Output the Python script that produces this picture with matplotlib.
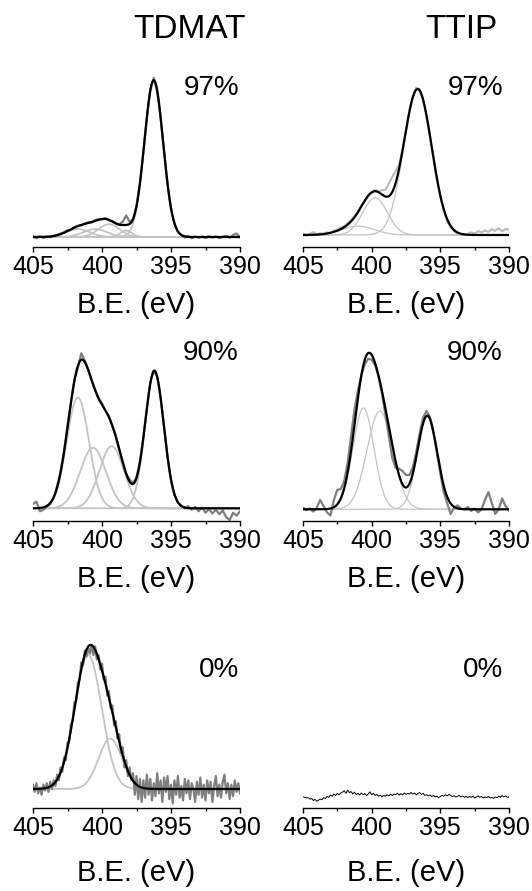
import numpy as np
import matplotlib
matplotlib.use('Agg')
import matplotlib.pyplot as plt

plt.rcParams['font.family'] = ['Liberation Sans', 'DejaVu Sans']

# binding energy grids (eV), spectra were sampled evenly from 405 to 390 eV
be_coarse = np.linspace(405, 390, 61)
be_fine = np.linspace(405, 390, 121)

# measured N 1s spectra, normalised intensity (a.u.)
tdmat_97 = [0.005, -0.008, 0.004, -0.006, 0.003, -0.002, 0.008, 0.012, 0.022, 0.030,
            0.042, 0.045, 0.062, 0.070, 0.072, 0.085, 0.092, 0.090, 0.105, 0.112,
            0.110, 0.118, 0.104, 0.100, 0.088, 0.080, 0.095, 0.135, 0.095, 0.110,
            0.195, 0.340, 0.530, 0.745, 0.920, 0.995, 0.910, 0.740, 0.530, 0.330,
            0.175, 0.085, 0.030, 0.012, -0.004, 0.006, -0.008, 0.004, -0.005, 0.003,
            -0.006, 0.005, -0.003, 0.004, -0.007, 0.002, 0.008, -0.004, 0.012, 0.022,
            -0.002]
ttip_97 = [0.010, -0.005, 0.008, 0.020, 0.004, 0.012, 0.006, 0.018, 0.012, 0.030,
           0.034, 0.050, 0.058, 0.082, 0.100, 0.125, 0.150, 0.200, 0.225, 0.262,
           0.280, 0.300, 0.295, 0.300, 0.305, 0.345, 0.390, 0.430, 0.470, 0.575,
           0.700, 0.835, 0.930, 0.990, 0.975, 0.900, 0.790, 0.660, 0.515, 0.375,
           0.255, 0.165, 0.095, 0.050, 0.025, 0.010, 0.004, 0.002, 0.008, 0.018,
           0.010, 0.026, 0.018, 0.030, 0.022, 0.040, 0.028, 0.045, 0.025, 0.040,
           0.035]
tdmat_90 = [0.030, 0.045, -0.020, -0.010, 0.010, 0.030, 0.070, 0.150, 0.250, 0.390,
            0.560, 0.720, 0.870, 0.950, 1.050, 1.000, 0.940, 0.865, 0.805, 0.740,
            0.710, 0.660, 0.625, 0.555, 0.490, 0.395, 0.310, 0.235, 0.195, 0.170,
            0.210, 0.315, 0.485, 0.680, 0.850, 0.935, 0.890, 0.745, 0.545, 0.345,
            0.190, 0.090, 0.040, 0.020, 0.000, 0.015, -0.010, 0.010, -0.020, 0.005,
            -0.030, -0.005, -0.035, -0.010, -0.040, -0.015, -0.060, -0.080, -0.030, -0.050,
            -0.020]
ttip_90 = [0.010, -0.005, 0.005, -0.015, 0.010, 0.060, 0.020, -0.020, -0.040, 0.060,
           0.125, 0.130, 0.180, 0.300, 0.470, 0.640, 0.760, 0.860, 0.930, 0.965,
           0.960, 0.925, 0.850, 0.740, 0.610, 0.470, 0.330, 0.265, 0.260, 0.245,
           0.220, 0.220, 0.270, 0.370, 0.490, 0.590, 0.630, 0.590, 0.490, 0.360,
           0.230, 0.110, 0.040, -0.030, 0.010, 0.025, 0.005, 0.000, 0.015, -0.010,
           0.005, -0.020, 0.000, 0.060, 0.110, 0.040, -0.030, 0.000, 0.070, 0.020,
           -0.010]
tdmat_0 = [0.030, -0.020, 0.040, -0.030, 0.010, -0.040, 0.030, -0.010, 0.040, -0.020,
           0.050, 0.000, 0.060, 0.020, 0.100, 0.060, 0.150, 0.120, 0.220, 0.200,
           0.320, 0.330, 0.450, 0.470, 0.600, 0.610, 0.740, 0.760, 0.880, 0.860,
           0.960, 0.920, 0.980, 0.940, 1.000, 0.930, 0.990, 0.900, 0.930, 0.830,
           0.870, 0.760, 0.780, 0.650, 0.680, 0.560, 0.580, 0.440, 0.470, 0.350,
           0.380, 0.250, 0.290, 0.150, 0.200, 0.090, 0.150, 0.060, 0.110, -0.040,
           0.090, -0.070, 0.070, -0.090, 0.060, -0.060, 0.100, -0.040, 0.070, -0.080,
           0.040, -0.050, 0.110, -0.030, 0.060, -0.090, 0.080, -0.020, 0.090, -0.070,
           0.030, -0.100, 0.060, -0.040, 0.090, -0.060, 0.020, -0.080, 0.070, -0.030,
           0.060, -0.070, 0.040, 0.000, -0.090, 0.050, -0.040, 0.080, -0.060, 0.030,
           -0.080, 0.060, -0.030, 0.050, -0.090, 0.020, 0.090, -0.050, 0.030, -0.060,
           0.050, 0.100, -0.030, 0.040, -0.070, 0.030, -0.050, 0.060, -0.020, 0.040,
           -0.030]
ttip_0 = [-0.055, -0.058, -0.062, -0.060, -0.070, -0.066, -0.080, -0.072, -0.085, -0.078,
          -0.070, -0.075, -0.060, -0.066, -0.052, -0.058, -0.042, -0.050, -0.035, -0.045,
          -0.030, -0.040, -0.028, -0.022, -0.012, -0.030, -0.008, -0.025, -0.018, -0.035,
          -0.022, -0.038, -0.030, -0.042, -0.028, -0.040, -0.032, -0.045, -0.035, -0.020,
          -0.040, -0.030, -0.045, -0.038, -0.050, -0.042, -0.055, -0.045, -0.050, -0.040,
          -0.048, -0.036, -0.045, -0.035, -0.040, -0.030, -0.042, -0.032, -0.040, -0.028,
          -0.038, -0.030, -0.035, -0.024, -0.036, -0.028, -0.040, -0.030, -0.025, -0.038,
          -0.030, -0.044, -0.040, -0.048, -0.042, -0.052, -0.046, -0.055, -0.050, -0.060,
          -0.052, -0.045, -0.050, -0.040, -0.048, -0.038, -0.045, -0.052, -0.046, -0.056,
          -0.050, -0.045, -0.055, -0.048, -0.058, -0.050, -0.060, -0.052, -0.058, -0.050,
          -0.062, -0.055, -0.048, -0.058, -0.052, -0.062, -0.055, -0.060, -0.052, -0.063,
          -0.058, -0.065, -0.055, -0.060, -0.050, -0.058, -0.046, -0.055, -0.048, -0.058,
          -0.055]

# fitted components: centre (eV), height, FWHM (eV)
tdmat_97_centre = [401.75, 400.5, 399.5, 398.25, 396.25]
tdmat_97_height = [0.05, 0.05, 0.08, 0.04, 0.98]
tdmat_97_fwhm = [2.0, 2.0, 1.8, 1.0, 1.6]

ttip_97_centre = [401.0, 399.75, 396.65]
ttip_97_height = [0.06, 0.25, 0.98]
ttip_97_fwhm = [2.8, 2.1, 2.4]

tdmat_90_centre = [401.75, 400.65, 399.3, 396.2]
tdmat_90_height = [0.75, 0.41, 0.42, 0.93]
tdmat_90_fwhm = [1.9, 2.2, 2.1, 1.6]

ttip_90_centre = [400.6, 399.4, 395.95]
ttip_90_height = [0.65, 0.63, 0.60]
ttip_90_fwhm = [1.8, 2.2, 1.7]

tdmat_0_centre = [401.0, 399.4]
tdmat_0_height = [0.93, 0.35]
tdmat_0_fwhm = [2.3, 2.0]

labels = ['97%', '97%', '90%', '90%', '0%', '0%']


def gauss(x, c, h, w):
    return h * np.exp(-4 * np.log(2) * (x - c) ** 2 / w ** 2)


panels = [
    (be_coarse, tdmat_97, (tdmat_97_centre, tdmat_97_height, tdmat_97_fwhm), '#7f7f7f'),
    (be_coarse, ttip_97, (ttip_97_centre, ttip_97_height, ttip_97_fwhm), '#bdbdbd'),
    (be_coarse, tdmat_90, (tdmat_90_centre, tdmat_90_height, tdmat_90_fwhm), '#7f7f7f'),
    (be_coarse, ttip_90, (ttip_90_centre, ttip_90_height, ttip_90_fwhm), '#7f7f7f'),
    (be_fine, tdmat_0, (tdmat_0_centre, tdmat_0_height, tdmat_0_fwhm), '#7f7f7f'),
    (be_fine, ttip_0, None, 'black'),
]

ylims = [(-0.0625, 1.0625), (-0.0805, 1.128), (-0.086, 1.133),
         (-0.075, 1.079), (-0.132, 1.118), (-0.132, 1.118)]

W, H = 532, 891
fig = plt.figure(figsize=(W / 100, H / 100), dpi=100)

col_x = [(33, 207), (303, 206)]
row_axis = [247, 521, 808]
ax_h = 180
label_y = [305, 579, 873]
pct_y = [88, 353, 670]
pct_right = [239, 503]

x_fit = np.linspace(405, 390, 601)

for i, (be, meas, fit, mcol) in enumerate(panels):
    r, c = divmod(i, 2)
    x0, w = col_x[c]
    ax = fig.add_axes([x0 / W, 1 - row_axis[r] / H, w / W, ax_h / H])
    if fit is not None:
        comp_lw = 1.3 if c == 0 else 0.9
        env = np.zeros_like(x_fit)
        for cc, hh, ww in zip(*fit):
            g = gauss(x_fit, cc, hh, ww)
            env += g
            ax.plot(x_fit, g, color='#c4c4c4', lw=comp_lw, zorder=1)
        ax.plot(be, meas, color=mcol, lw=1.6, zorder=2)
        ax.plot(x_fit, env, color='black', lw=1.6, zorder=3)
    else:
        ax.plot(be, meas, color=mcol, lw=0.7, zorder=2)

    ax.set_xlim(405, 390)
    ax.set_ylim(*ylims[i])
    for s in ['left', 'right', 'top']:
        ax.spines[s].set_visible(False)
    ax.spines['bottom'].set_linewidth(1.0)
    ax.set_yticks([])
    ax.set_xticks([405, 400, 395, 390])
    ax.set_xticks([402.5, 397.5, 392.5], minor=True)
    ax.tick_params(axis='x', which='major', length=3.5, width=1.0, pad=2, labelsize=18)
    ax.tick_params(axis='x', which='minor', length=1.8, width=1.0)
    ax.patch.set_alpha(0)

    fig.text((x0 + w / 2) / W, 1 - label_y[r] / H, 'B.E. (eV)',
             ha='center', va='center', fontsize=21)
    fig.text(pct_right[c] / W, 1 - pct_y[r] / H, labels[i],
             ha='right', va='center', fontsize=20)

fig.text(190 / W, 1 - 30 / H, 'TDMAT', ha='center', va='center', fontsize=24)
fig.text(461 / W, 1 - 30 / H, 'TTIP', ha='center', va='center', fontsize=24)

fig.savefig('out.png', dpi=100)
